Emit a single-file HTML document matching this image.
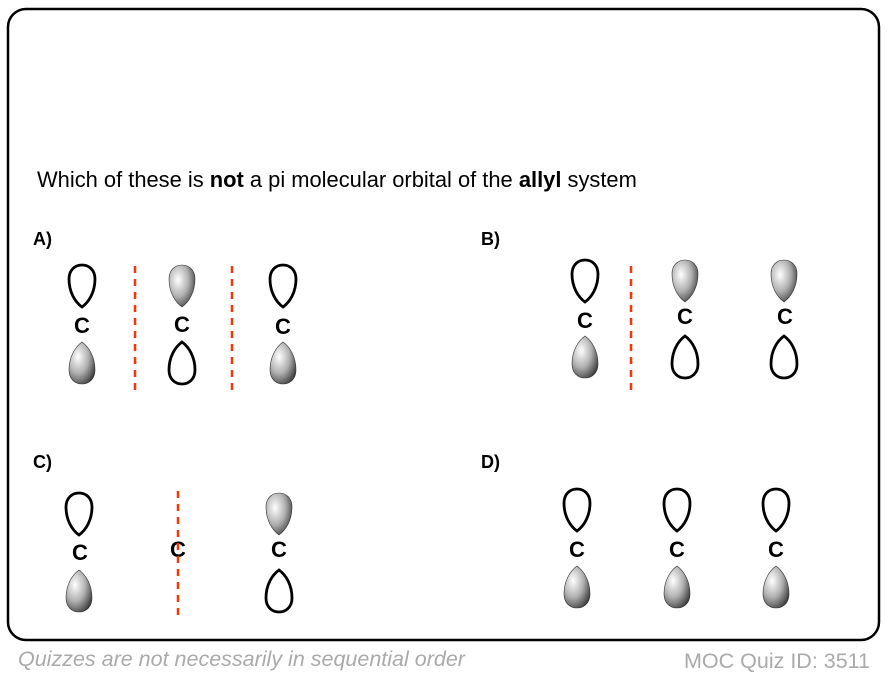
<!DOCTYPE html>
<html><head><meta charset="utf-8"><style>
html,body{margin:0;padding:0;background:#fff;width:888px;height:676px;overflow:hidden}
svg{display:block}
</style></head><body>
<svg width="888" height="676" viewBox="0 0 888 676" xmlns="http://www.w3.org/2000/svg">
<defs>
<radialGradient id="g" cx="0.35" cy="0.35" r="0.8">
<stop offset="0" stop-color="#ffffff"/><stop offset="0.5" stop-color="#b0b0b0"/><stop offset="1" stop-color="#2a2a2a"/>
</radialGradient>
<path id="U" d="M0,42 C-7,37 -13,27 -13,14 C-13,5 -7,0 0,0 C7,0 13,5 13,14 C13,27 7,37 0,42Z"/>
<path id="D" d="M0,0 C-7,5 -13,15 -13,28 C-13,37 -7,42 0,42 C7,42 13,37 13,28 C13,15 7,5 0,0Z"/>
</defs>
<rect x="8" y="9" width="871" height="631" rx="18" fill="#fff" stroke="#000" stroke-width="2.5"/>
<g font-family="Liberation Sans, Arial, sans-serif">
<text x="37" y="187" font-size="21.9" fill="#000">Which of these is <tspan font-weight="bold">not</tspan> a pi molecular orbital of the <tspan font-weight="bold">allyl</tspan> system</text>
<g font-size="18" font-weight="bold">
<text x="33" y="245">A)</text><text x="481" y="245">B)</text>
<text x="33" y="468">C)</text><text x="481" y="468">D)</text>
</g>
<g font-size="22" font-weight="bold" text-anchor="middle">
<text x="82" y="333">C</text><text x="182" y="332">C</text><text x="283" y="334">C</text>
<text x="585" y="328">C</text><text x="685" y="324">C</text><text x="785" y="324">C</text>
<text x="80" y="560">C</text><text x="178" y="557">C</text><text x="279" y="557">C</text>
<text x="577" y="557">C</text><text x="677" y="557">C</text><text x="776" y="557">C</text>
</g>
<text x="18" y="666" font-size="21.5" font-style="italic" fill="#aaa">Quizzes are not necessarily in sequential order</text>
<text x="870" y="668" font-size="21.5" fill="#aaa" text-anchor="end">MOC Quiz ID: 3511</text>
</g>
<g stroke="#ff3300" stroke-width="2.5" stroke-dasharray="7,6">
<line x1="135" y1="266" x2="135" y2="396"/><line x1="232" y1="266" x2="232" y2="396"/>
<line x1="631" y1="266" x2="631" y2="396"/>
<line x1="178" y1="491" x2="178" y2="621"/>
</g>
<g fill="#fff" stroke="#000" stroke-width="2.8">
<use href="#U" x="82" y="265"/><use href="#D" x="182" y="342"/><use href="#U" x="283" y="265"/>
<use href="#U" x="585" y="260"/><use href="#D" x="685" y="336"/><use href="#D" x="784" y="336"/>
<use href="#U" x="79" y="493"/><use href="#D" x="279" y="570"/>
<use href="#U" x="577" y="489"/><use href="#U" x="677" y="489"/><use href="#U" x="776" y="489"/>
</g>
<g fill="url(#g)" stroke="#333" stroke-width="0.6">
<use href="#D" x="82" y="342"/><use href="#U" x="182" y="265"/><use href="#D" x="283" y="342"/>
<use href="#D" x="585" y="336"/><use href="#U" x="685" y="260"/><use href="#U" x="784" y="260"/>
<use href="#D" x="79" y="570"/><use href="#U" x="279" y="493"/>
<use href="#D" x="577" y="566"/><use href="#D" x="677" y="566"/><use href="#D" x="776" y="566"/>
</g>
</svg>
</body></html>
